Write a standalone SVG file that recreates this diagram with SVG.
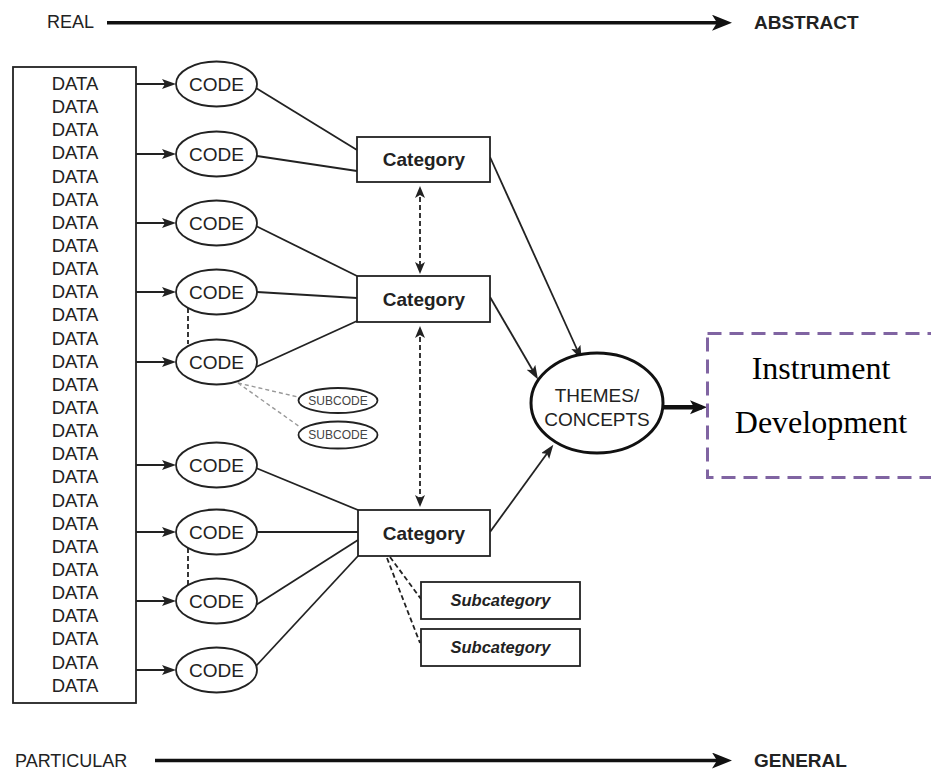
<svg xmlns="http://www.w3.org/2000/svg" width="931" height="771" viewBox="0 0 931 771">
  <style>
    .sans { font-family: "Liberation Sans", Arial, sans-serif; fill: #222; }
    .data { font-size: 18.5px; text-anchor: middle; }
    .code { font-size: 19px; text-anchor: middle; }
    .cat { font-size: 19px; font-weight: bold; text-anchor: middle; }
    .subcat { font-size: 16.5px; font-weight: bold; font-style: italic; text-anchor: middle; }
    .subcode { font-size: 12px; text-anchor: middle; fill: #444; }
    .axis { font-size: 18px; }
    .axisB { font-size: 19px; font-weight: bold; }
    .serif { font-family: "Liberation Serif", "Times New Roman", serif; font-size: 32px; fill: #000; text-anchor: middle; }
    .shape { fill: #fff; stroke: #222; stroke-width: 1.8; }
    .link { stroke: #222; stroke-width: 1.8; fill: none; }
    .dash { stroke: #222; stroke-width: 1.8; fill: none; stroke-dasharray: 5 3; }
    .graydash { stroke: #999; stroke-width: 1.4; fill: none; stroke-dasharray: 4 3; }
  </style>
  <defs>
    <marker id="arrowSmall" markerUnits="userSpaceOnUse" markerWidth="16" markerHeight="12" refX="10" refY="5" orient="auto">
      <path d="M0,0 L14,5 L0,10 L3,5 Z" fill="#222"/>
    </marker>
    <marker id="arrowDash" markerUnits="userSpaceOnUse" markerWidth="14" markerHeight="12" refX="9" refY="5" orient="auto-start-reverse">
      <path d="M0,0 L12,5 L0,10 L3,5 Z" fill="#222"/>
    </marker>
    <marker id="arrowBig" markerUnits="userSpaceOnUse" markerWidth="24" markerHeight="18" refX="14" refY="8" orient="auto">
      <path d="M0,0 L20,8 L0,16 L5,8 Z" fill="#111"/>
    </marker>
    <marker id="arrowThick" markerUnits="userSpaceOnUse" markerWidth="20" markerHeight="16" refX="12" refY="7" orient="auto">
      <path d="M0,0 L17,7 L0,14 L4,7 Z" fill="#111"/>
    </marker>
  </defs>

  <!-- axes -->
  <g id="axis-top">
    <text class="sans axis" x="47" y="28">REAL</text>
    <line x1="107" y1="22.7" x2="726" y2="22.7" stroke="#111" stroke-width="3.5" marker-end="url(#arrowBig)"/>
    <text class="sans axisB" x="754" y="28.5">ABSTRACT</text>
  </g>
  <g id="axis-bottom">
    <text class="sans axis" x="15" y="766.5">PARTICULAR</text>
    <line x1="155" y1="760.5" x2="726" y2="760.5" stroke="#111" stroke-width="3.5" marker-end="url(#arrowBig)"/>
    <text class="sans axisB" x="754" y="767">GENERAL</text>
  </g>

  <!-- connectors -->
  <g id="connectors">
    <!-- data to codes -->
    <line class="link" x1="136" y1="84" x2="172" y2="84" marker-end="url(#arrowSmall)"/>
    <line class="link" x1="136" y1="154" x2="172" y2="154" marker-end="url(#arrowSmall)"/>
    <line class="link" x1="136" y1="223" x2="172" y2="223" marker-end="url(#arrowSmall)"/>
    <line class="link" x1="136" y1="292" x2="172" y2="292" marker-end="url(#arrowSmall)"/>
    <line class="link" x1="136" y1="362" x2="172" y2="362" marker-end="url(#arrowSmall)"/>
    <line class="link" x1="136" y1="465" x2="172" y2="465" marker-end="url(#arrowSmall)"/>
    <line class="link" x1="136" y1="532" x2="172" y2="532" marker-end="url(#arrowSmall)"/>
    <line class="link" x1="136" y1="601" x2="172" y2="601" marker-end="url(#arrowSmall)"/>
    <line class="link" x1="136" y1="670" x2="172" y2="670" marker-end="url(#arrowSmall)"/>

    <!-- codes to categories -->
    <line class="link" x1="256" y1="88" x2="357" y2="150"/>
    <line class="link" x1="257" y1="156" x2="357" y2="171"/>
    <line class="link" x1="256" y1="226" x2="357" y2="276"/>
    <line class="link" x1="257" y1="292" x2="357" y2="298"/>
    <line class="link" x1="256" y1="367" x2="357" y2="321"/>
    <line class="link" x1="256" y1="468" x2="358" y2="510"/>
    <line class="link" x1="257" y1="532" x2="358" y2="532"/>
    <line class="link" x1="256" y1="605" x2="358" y2="540"/>
    <line class="link" x1="256" y1="666" x2="358" y2="556"/>

    <!-- code-to-code dashed ties -->
    <line class="dash" x1="188" y1="308" x2="188" y2="344"/>
    <line class="dash" x1="188" y1="548" x2="188" y2="585"/>

    <!-- subcodes -->
    <line class="graydash" x1="238" y1="383" x2="298" y2="397"/>
    <line class="graydash" x1="238" y1="383" x2="300" y2="427"/>

    <!-- category to category -->
    <line class="dash" x1="420" y1="189" x2="420" y2="271" marker-start="url(#arrowDash)" marker-end="url(#arrowDash)"/>
    <line class="dash" x1="420" y1="329" x2="420" y2="504" marker-start="url(#arrowDash)" marker-end="url(#arrowDash)"/>

    <!-- subcategories -->
    <line class="dash" x1="390" y1="557" x2="421" y2="599"/>
    <line class="dash" x1="387" y1="558" x2="420" y2="643"/>

    <!-- categories to themes -->
    <line class="link" x1="490" y1="157" x2="580" y2="356" marker-end="url(#arrowSmall)"/>
    <line class="link" x1="490" y1="297" x2="536" y2="376" marker-end="url(#arrowSmall)"/>
    <line class="link" x1="490" y1="532" x2="551" y2="448" marker-end="url(#arrowSmall)"/>

    <!-- themes to instrument -->
    <line x1="663" y1="407.3" x2="702" y2="407.3" stroke="#111" stroke-width="4.5" marker-end="url(#arrowThick)"/>
  </g>

  <!-- data column -->
  <g id="data">
    <rect class="shape" x="13" y="67" width="123" height="636"/>
    <text class="sans data" x="75" y="90">DATA</text>
    <text class="sans data" x="75" y="113.1">DATA</text>
    <text class="sans data" x="75" y="136.3">DATA</text>
    <text class="sans data" x="75" y="159.4">DATA</text>
    <text class="sans data" x="75" y="182.6">DATA</text>
    <text class="sans data" x="75" y="205.7">DATA</text>
    <text class="sans data" x="75" y="228.8">DATA</text>
    <text class="sans data" x="75" y="252">DATA</text>
    <text class="sans data" x="75" y="275.1">DATA</text>
    <text class="sans data" x="75" y="298.3">DATA</text>
    <text class="sans data" x="75" y="321.4">DATA</text>
    <text class="sans data" x="75" y="344.5">DATA</text>
    <text class="sans data" x="75" y="367.7">DATA</text>
    <text class="sans data" x="75" y="390.8">DATA</text>
    <text class="sans data" x="75" y="414">DATA</text>
    <text class="sans data" x="75" y="437.1">DATA</text>
    <text class="sans data" x="75" y="460.2">DATA</text>
    <text class="sans data" x="75" y="483.4">DATA</text>
    <text class="sans data" x="75" y="506.5">DATA</text>
    <text class="sans data" x="75" y="529.7">DATA</text>
    <text class="sans data" x="75" y="552.8">DATA</text>
    <text class="sans data" x="75" y="575.9">DATA</text>
    <text class="sans data" x="75" y="599.1">DATA</text>
    <text class="sans data" x="75" y="622.2">DATA</text>
    <text class="sans data" x="75" y="645.4">DATA</text>
    <text class="sans data" x="75" y="668.5">DATA</text>
    <text class="sans data" x="75" y="691.6">DATA</text>
  </g>

  <!-- codes -->
  <g id="code-1"><ellipse class="shape" cx="216.5" cy="84" rx="40.5" ry="22.5"/><text class="sans code" x="216.5" y="90.8">CODE</text></g>
  <g id="code-2"><ellipse class="shape" cx="216.5" cy="154" rx="40.5" ry="22.5"/><text class="sans code" x="216.5" y="160.8">CODE</text></g>
  <g id="code-3"><ellipse class="shape" cx="216.5" cy="223" rx="40.5" ry="22.5"/><text class="sans code" x="216.5" y="229.8">CODE</text></g>
  <g id="code-4"><ellipse class="shape" cx="216.5" cy="292" rx="40.5" ry="22.5"/><text class="sans code" x="216.5" y="298.8">CODE</text></g>
  <g id="code-5"><ellipse class="shape" cx="216.5" cy="362" rx="40.5" ry="22.5"/><text class="sans code" x="216.5" y="368.8">CODE</text></g>
  <g id="code-6"><ellipse class="shape" cx="216.5" cy="465" rx="40.5" ry="22.5"/><text class="sans code" x="216.5" y="471.8">CODE</text></g>
  <g id="code-7"><ellipse class="shape" cx="216.5" cy="532" rx="40.5" ry="22.5"/><text class="sans code" x="216.5" y="538.8">CODE</text></g>
  <g id="code-8"><ellipse class="shape" cx="216.5" cy="601" rx="40.5" ry="22.5"/><text class="sans code" x="216.5" y="607.8">CODE</text></g>
  <g id="code-9"><ellipse class="shape" cx="216.5" cy="670" rx="40.5" ry="22.5"/><text class="sans code" x="216.5" y="676.8">CODE</text></g>

  <!-- subcodes -->
  <g id="subcode-1"><ellipse class="shape" cx="338" cy="400.5" rx="39.5" ry="12.5" stroke-width="1.5"/><text class="sans subcode" x="338" y="404.8">SUBCODE</text></g>
  <g id="subcode-2"><ellipse class="shape" cx="338" cy="435" rx="39.5" ry="13.5" stroke-width="1.5"/><text class="sans subcode" x="338" y="439.3">SUBCODE</text></g>

  <!-- categories -->
  <g id="category-1"><rect class="shape" x="357" y="137" width="133" height="45"/><text class="sans cat" x="424" y="166">Category</text></g>
  <g id="category-2"><rect class="shape" x="357" y="276" width="133" height="46"/><text class="sans cat" x="424" y="305.5">Category</text></g>
  <g id="category-3"><rect class="shape" x="358" y="510" width="132" height="46"/><text class="sans cat" x="424" y="539.5">Category</text></g>

  <!-- subcategories -->
  <g id="subcategory-1"><rect class="shape" x="421" y="582" width="159" height="37"/><text class="sans subcat" x="500.5" y="606">Subcategory</text></g>
  <g id="subcategory-2"><rect class="shape" x="421" y="629" width="159" height="37"/><text class="sans subcat" x="500.5" y="653">Subcategory</text></g>

  <!-- themes -->
  <g id="themes">
    <ellipse cx="597" cy="403" rx="66" ry="50" fill="#fff" stroke="#111" stroke-width="3"/>
    <text class="sans code" x="597" y="401.7" fill="#333">THEMES/</text>
    <text class="sans code" x="597" y="426" fill="#333">CONCEPTS</text>
  </g>

  <!-- instrument development -->
  <g id="instrument">
    <rect x="707.5" y="333.5" width="228" height="144" fill="none" stroke="#8064A2" stroke-width="3" stroke-dasharray="14 8"/>
    <text class="serif" x="821" y="379">Instrument</text>
    <text class="serif" x="821" y="433">Development</text>
  </g>
</svg>
